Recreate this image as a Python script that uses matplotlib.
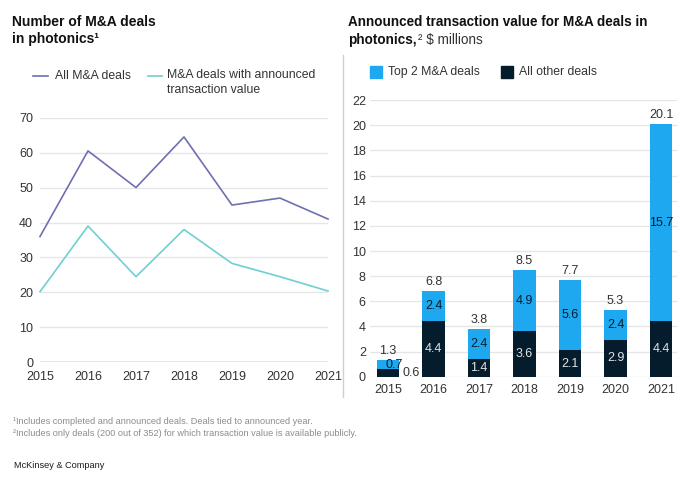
import matplotlib
matplotlib.use("Agg")
import matplotlib.pyplot as plt
from matplotlib.lines import Line2D
from matplotlib.patches import Rectangle

plt.rcParams["font.family"] = ["Liberation Sans", "DejaVu Sans"]

W, H = 697, 483

# --- data -------------------------------------------------------------------
years = ["2015", "2016", "2017", "2018", "2019", "2020", "2021"]
all_deals = [36, 60.5, 50, 64.5, 45, 47, 41]
announced_deals = [20.2, 39, 24.5, 38, 28.3, 24.5, 20.4]

other_value = [0.6, 4.4, 1.4, 3.6, 2.1, 2.9, 4.4]
top2_value = [0.7, 2.4, 2.4, 4.9, 5.6, 2.4, 15.7]
total_value = [1.3, 6.8, 3.8, 8.5, 7.7, 5.3, 20.1]

C_ALL = "#6f6fb3"
C_ANN = "#6fcfd2"
C_TOP = "#1ea8ef"
C_OTHER = "#051c2c"
C_GRID = "#e6e6e6"
C_TXT = "#333333"


def fx(px):
    return px / W


def fy(py):
    return 1 - py / H


fig = plt.figure(figsize=(W / 100, H / 100), dpi=100)

# --- left: number of deals ----------------------------------------------------
ax1 = fig.add_axes([fx(40), fy(362.3), fx(328) - fx(40), fy(117.7) - fy(362.3)])
xi = list(range(len(years)))
ax1.plot(xi, all_deals, color=C_ALL, lw=1.2, clip_on=False)
ax1.plot(xi, announced_deals, color=C_ANN, lw=1.2, clip_on=False)
ax1.set_xlim(0, 6)
ax1.set_ylim(0, 70)
ax1.set_yticks(range(0, 71, 10))
ax1.set_xticks(xi)
ax1.set_xticklabels(years)
ax1.grid(axis="y", color=C_GRID, lw=1)
ax1.set_axisbelow(True)
for s in ax1.spines.values():
    s.set_visible(False)
ax1.axhline(0, color="#9a9a9a", lw=1, zorder=1)
ax1.tick_params(length=0, labelsize=9, colors=C_TXT)
ax1.tick_params(axis="y", pad=5)
ax1.tick_params(axis="x", pad=6)

# --- right: transaction value -------------------------------------------------
ax2 = fig.add_axes([fx(370), fy(376.7), fx(677) - fx(370), fy(100.2) - fy(376.7)])
bw = 0.5
ax2.bar(xi, other_value, width=bw, color=C_OTHER, zorder=2)
ax2.bar(xi, top2_value, width=bw, bottom=other_value, color=C_TOP, zorder=2)
ax2.set_xlim(-0.396, 6.35)
ax2.set_ylim(0, 22)
ax2.set_yticks(range(0, 23, 2))
ax2.set_xticks(xi)
ax2.set_xticklabels(years)
ax2.grid(axis="y", color=C_GRID, lw=1)
ax2.set_axisbelow(True)
for s in ax2.spines.values():
    s.set_visible(False)
ax2.tick_params(length=0, labelsize=9, colors=C_TXT)
ax2.tick_params(axis="y", pad=3)
ax2.tick_params(axis="x", pad=5)

for i in xi:
    o, t, tot = other_value[i], top2_value[i], total_value[i]
    ax2.annotate(f"{tot:.1f}", (i, o + t), xytext=(0, 6.5), textcoords="offset points",
                 ha="center", va="center", fontsize=9, color=C_TXT)
    if i == 0:
        ax2.text(i + 0.13, o + t / 2, f"{t:.1f}", ha="center", va="center",
                 fontsize=9, color=C_OTHER, zorder=3)
        ax2.annotate(f"{o:.1f}", (i + bw / 2, o / 2), xytext=(2, 0),
                     textcoords="offset points", ha="left", va="center",
                     fontsize=9, color=C_TXT)
    else:
        ax2.text(i, o + t / 2, f"{t:.1f}", ha="center", va="center",
                 fontsize=9, color=C_OTHER, zorder=3)
        ax2.text(i, o / 2, f"{o:.1f}", ha="center", va="center",
                 fontsize=9, color="#e4e4e4", zorder=3)

# --- divider ----------------------------------------------------------------
fig.add_artist(Line2D([fx(343), fx(343)], [fy(55), fy(397)], color="#cfcfcf", lw=1))

# --- titles -----------------------------------------------------------------
fig.text(fx(12), fy(15), "Number of M&A deals\nin photonics\u00b9", fontsize=10,
         fontweight="bold", color="#111111", va="top", ha="left", linespacing=1.3)
fig.text(fx(348), fy(15), "Announced transaction value for M&A deals in", fontsize=9.75,
         fontweight="bold", color="#111111", va="top", ha="left")
t2 = fig.text(fx(348), fy(33), "photonics,", fontsize=9.75, fontweight="bold",
              color="#111111", va="top", ha="left")
fig.canvas.draw()
bb = t2.get_window_extent()
fig.text(bb.x1 / W + fx(1), fy(33), "\u00b2 \\$ millions", fontsize=9.75,
         color="#333333", va="top", ha="left")

# --- legends ----------------------------------------------------------------
fig.add_artist(Line2D([fx(33), fx(48)], [fy(76), fy(76)], color=C_ALL, lw=1.2))
fig.text(fx(55), fy(76), "All M&A deals", fontsize=8.8, color=C_TXT, va="center")
fig.add_artist(Line2D([fx(148), fx(162)], [fy(76), fy(76)], color=C_ANN, lw=1.2))
fig.text(fx(167), fy(69), "M&A deals with announced\ntransaction value", fontsize=8.8,
         color=C_TXT, va="top", linespacing=1.3)

fig.add_artist(Rectangle((fx(370), fy(78)), fx(12), fx(12) * W / H, color=C_TOP))
fig.text(fx(388), fy(72), "Top 2 M&A deals", fontsize=8.8, color=C_TXT, va="center")
fig.add_artist(Rectangle((fx(501), fy(78)), fx(12), fx(12) * W / H, color=C_OTHER))
fig.text(fx(519), fy(72), "All other deals", fontsize=8.8, color=C_TXT, va="center")

# --- footnotes ----------------------------------------------------------------
fig.text(fx(13), fy(422), "\u00b9Includes completed and announced deals. Deals tied to announced year.",
         fontsize=6.6, color="#8c8c8c", va="center")
fig.text(fx(13), fy(433.5), "\u00b2Includes only deals (200 out of 352) for which transaction value is available publicly.",
         fontsize=6.6, color="#8c8c8c", va="center")
fig.text(fx(14), fy(465), "McKinsey & Company", fontsize=6.6, color="#1a1a1a", va="center")

fig.savefig("out.png", dpi=100)
